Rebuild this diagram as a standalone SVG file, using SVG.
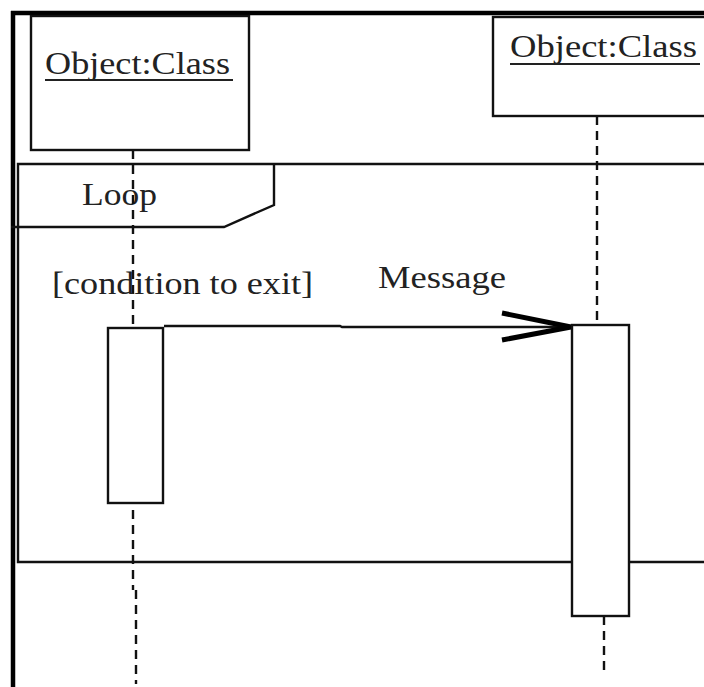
<svg xmlns="http://www.w3.org/2000/svg" width="704" height="687" viewBox="0 0 704 687">
<style>
.ln{fill:none;stroke:#111;stroke-width:2.4}
.box{fill:#fff;stroke:#111;stroke-width:2.4}
.life{fill:none;stroke:#111;stroke-width:2.4;stroke-dasharray:9 6}
.t{font-family:"Liberation Serif","Times New Roman",serif;font-size:32px;fill:#222}
</style>
<rect width="704" height="687" fill="#fff"/>
<g id="border">
<line x1="11" y1="13" x2="704" y2="13" stroke="#000" stroke-width="4.5"/>
<line x1="13" y1="11" x2="13" y2="687" stroke="#000" stroke-width="4.5"/>
</g>
<g id="loop-frame">
<path class="ln" d="M704,164 H18 V562 H704"/>
<path class="ln" d="M274,164 V205 L224,227 H11"/>
<text class="t" x="82" y="205" textLength="75" lengthAdjust="spacingAndGlyphs">Loop</text>
</g>
<g id="connectors">
<path class="life" d="M133,150 V590"/>
<path class="life" d="M136,590 V684"/>
<path class="life" d="M597,116 V325"/>
<path class="life" d="M604,616 V674"/>
<path class="ln" d="M164,326 H340 L342,327 H570"/>
<path d="M502,313 L571,327 L502,340" fill="none" stroke="#000" stroke-width="5" stroke-linejoin="miter"/>
<text class="t" x="378" y="288" textLength="128" lengthAdjust="spacingAndGlyphs">Message</text>
<text class="t" x="52" y="294" textLength="261" lengthAdjust="spacingAndGlyphs">[condition to exit]</text>
</g>
<g id="object1">
<rect class="box" x="31" y="16" width="218" height="134"/>
<text class="t" x="45" y="74" textLength="185" lengthAdjust="spacingAndGlyphs">Object:Class</text>
<line x1="45" y1="80" x2="233" y2="80" stroke="#222" stroke-width="2.2"/>
</g>
<g id="object2">
<rect class="box" x="493" y="17" width="220" height="99"/>
<text class="t" x="510" y="57" textLength="187" lengthAdjust="spacingAndGlyphs">Object:Class</text>
<line x1="510" y1="64" x2="700" y2="64" stroke="#222" stroke-width="2.2"/>
</g>
<g id="activation1">
<rect class="box" x="108" y="328" width="55" height="175"/>
</g>
<g id="activation2">
<rect class="box" x="572" y="325" width="57" height="291"/>
</g>
</svg>
